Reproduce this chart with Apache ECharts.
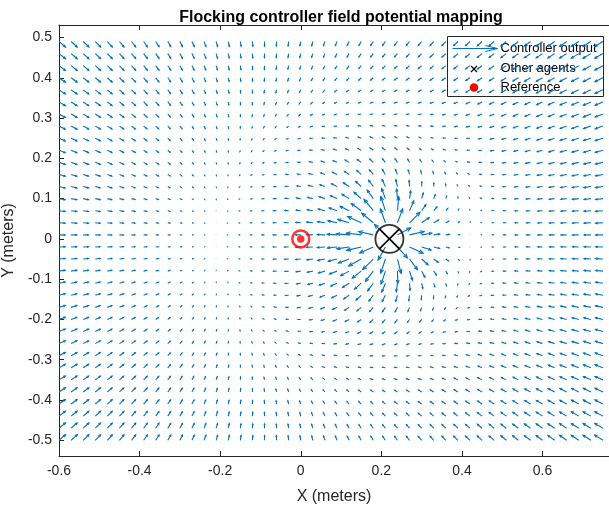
<!DOCTYPE html>
<html>
<head>
<meta charset="utf-8">
<script src="https://cdn.jsdelivr.net/npm/echarts@6/dist/echarts.min.js"></script>
<style>html,body{margin:0;padding:0;background:#fff}#c{width:609px;height:509px}</style>
</head>
<body>
<div id="c"></div>
<script>
// ---- data ----
const gridX = [-0.60,-0.57,-0.54,-0.51,-0.48,-0.45,-0.42,-0.39,-0.36,-0.33,-0.30,-0.27,-0.24,-0.21,-0.18,-0.15,-0.12,-0.09,-0.06,-0.03,0.00,0.03,0.06,0.09,0.12,0.15,0.18,0.21,0.24,0.27,0.30,0.33,0.36,0.39,0.42,0.45,0.48,0.51,0.54,0.57,0.60,0.63,0.66,0.69,0.72,0.75];
const gridY = [-0.50,-0.47,-0.44,-0.41,-0.38,-0.35,-0.32,-0.29,-0.26,-0.23,-0.20,-0.17,-0.14,-0.11,-0.08,-0.05,-0.02,0.01,0.04,0.07,0.10,0.13,0.16,0.19,0.22,0.25,0.28,0.31,0.34,0.37,0.40,0.43,0.46,0.49];
const referencePoint = [0, 0];
const otherAgents = [[0.22, 0]];
const xTicks = [-0.6,-0.4,-0.2,0,0.2,0.4,0.6];
const yTicks = [-0.5,-0.4,-0.3,-0.2,-0.1,0,0.1,0.2,0.3,0.4,0.5];
// controller gains (attraction to reference, repulsion from agents), output saturation
const kAttract = 0.031;
const kRepel = 0.0028;
const maxOut = 0.037;

function controller(x, y) {
  let u = kAttract * (referencePoint[0] - x);
  let v = kAttract * (referencePoint[1] - y);
  for (const a of otherAgents) {
    const dx = x - a[0], dy = y - a[1];
    const d2 = dx*dx + dy*dy;
    u += kRepel * dx / d2;
    v += kRepel * dy / d2;
  }
  const m = Math.hypot(u, v);
  if (m > maxOut) { u *= maxOut / m; v *= maxOut / m; }
  return [u, v];
}
const field = [];
for (const y of gridY) for (const x of gridX) {
  const [u, v] = controller(x, y);
  field.push([x, y, u, v]);
}

const BLUE = '#0072BD';
const AX = '#262626';
const FONT = 'Liberation Sans, Arial, sans-serif';
const chart = echarts.init(document.getElementById('c'), null, {renderer: 'canvas'});

function arrowShape(p0, p1, style) {
  const dx = p1[0]-p0[0], dy = p1[1]-p0[1];
  const len = Math.hypot(dx, dy);
  const children = [{type: 'line', shape: {x1: p0[0], y1: p0[1], x2: p1[0], y2: p1[1]}, style: style}];
  if (len > 0.5) {
    const ang = Math.atan2(dy, dx);
    const h = len * 0.3, a = 0.4;
    children.push({type: 'polyline', shape: {points: [
      [p1[0] - h*Math.cos(ang - a), p1[1] - h*Math.sin(ang - a)],
      [p1[0], p1[1]],
      [p1[0] - h*Math.cos(ang + a), p1[1] - h*Math.sin(ang + a)]
    ]}, style: style});
  }
  return children;
}

const option = {
  animation: false,
  backgroundColor: '#fff',
  title: {
    text: 'Flocking controller field potential mapping',
    left: 336, top: 5, textAlign: 'center',
    textStyle: {fontFamily: FONT, fontSize: 16, fontWeight: 'bold', color: '#000'}
  },
  grid: {left: 59, top: 25, right: 0, bottom: 53, containLabel: false, outerBoundsMode: 'none'},
  xAxis: [{
    type: 'value', min: -0.6, max: 0.765,
    name: 'X (meters)', nameLocation: 'middle', nameGap: 33,
    nameTextStyle: {fontFamily: FONT, fontSize: 16, color: AX},
    axisLine: {show: true, onZero: false, lineStyle: {color: AX, width: 1}},
    axisTick: {show: true, inside: true, length: 5, lineStyle: {color: AX}, customValues: xTicks},
    axisLabel: {show: true, customValues: xTicks, fontFamily: FONT, fontSize: 14, color: AX, margin: 8,
      formatter: v => (Math.abs(v) < 1e-9 ? '0' : String(Math.round(v*10)/10))},
    splitLine: {show: false}
  }, {
    type: 'value', min: -0.6, max: 0.765, position: 'top',
    axisLine: {show: true, onZero: false, lineStyle: {color: AX, width: 1}},
    axisTick: {show: true, inside: true, length: 5, lineStyle: {color: AX}, customValues: xTicks},
    axisLabel: {show: false}, splitLine: {show: false}
  }],
  yAxis: [{
    type: 'value', min: -0.539, max: 0.531,
    name: 'Y (meters)', nameLocation: 'middle', nameGap: 38, nameRotate: 90,
    nameTextStyle: {fontFamily: FONT, fontSize: 16, color: AX},
    axisLine: {show: true, onZero: false, lineStyle: {color: AX, width: 1}},
    axisTick: {show: true, inside: true, length: 5, lineStyle: {color: AX}, customValues: yTicks},
    axisLabel: {show: true, customValues: yTicks, fontFamily: FONT, fontSize: 14, color: AX, margin: 7,
      formatter: v => (Math.abs(v) < 1e-9 ? '0' : String(Math.round(v*10)/10))},
    splitLine: {show: false}
  }],
  series: [{
    type: 'custom',
    name: 'Controller output',
    clip: true,
    data: field,
    renderItem: function (params, api) {
      const x = api.value(0), y = api.value(1), u = api.value(2), v = api.value(3);
      const p0 = api.coord([x, y]);
      const p1 = api.coord([x + u, y + v]);
      return {type: 'group', children: arrowShape(p0, p1, {stroke: BLUE, lineWidth: 1.1, fill: null})};
    },
    z: 2
  }, {
    type: 'scatter', name: 'Reference ring', data: [referencePoint],
    symbol: 'circle', symbolSize: 17,
    itemStyle: {color: 'rgba(0,0,0,0)', borderColor: '#ff0000', borderWidth: 2.5},
    z: 5, silent: true
  }, {
    type: 'scatter', name: 'Reference', data: [referencePoint],
    symbol: 'circle', symbolSize: 7.5,
    itemStyle: {color: '#ff0000'}, z: 6, silent: true
  }, {
    type: 'scatter', name: 'Other agents ring', data: otherAgents,
    symbol: 'circle', symbolSize: 28,
    itemStyle: {color: 'rgba(0,0,0,0)', borderColor: '#000', borderWidth: 1.8},
    z: 5, silent: true
  }, {
    type: 'custom', name: 'Other agents', data: otherAgents, clip: true,
    renderItem: function (params, api) {
      const p = api.coord([api.value(0), api.value(1)]);
      const r = 9.8;
      const st = {stroke: '#000', lineWidth: 1.6};
      return {type: 'group', children: [
        {type: 'line', shape: {x1: p[0]-r, y1: p[1]-r, x2: p[0]+r, y2: p[1]+r}, style: st},
        {type: 'line', shape: {x1: p[0]+r, y1: p[1]-r, x2: p[0]-r, y2: p[1]+r}, style: st}
      ]};
    },
    z: 6
  }],
  graphic: [{
    type: 'group', left: 447, top: 36, z: 100,
    children: [
      {type: 'rect', shape: {x: 0, y: 0, width: 156, height: 60}, style: {fill: '#fff', stroke: AX, lineWidth: 1}},
      {type: 'line', shape: {x1: 5, y1: 12, x2: 50, y2: 12}, style: {stroke: BLUE, lineWidth: 1}},
      {type: 'polyline', shape: {points: [[38, 9], [50, 12], [38, 15]]}, style: {stroke: BLUE, lineWidth: 1, fill: null}},
      {type: 'text', x: 53, y: 12, style: {text: 'Controller output', fontFamily: FONT, fontSize: 13, fill: '#000', verticalAlign: 'middle'}},
      {type: 'line', shape: {x1: 23.5, y1: 29.5, x2: 29.5, y2: 35.5}, style: {stroke: '#000', lineWidth: 1.2}},
      {type: 'line', shape: {x1: 29.5, y1: 29.5, x2: 23.5, y2: 35.5}, style: {stroke: '#000', lineWidth: 1.2}},
      {type: 'text', x: 53, y: 32, style: {text: 'Other agents', fontFamily: FONT, fontSize: 13, fill: '#000', verticalAlign: 'middle'}},
      {type: 'circle', shape: {cx: 26.5, cy: 51, r: 4.3}, style: {fill: '#ff0000'}},
      {type: 'text', x: 53, y: 51, style: {text: 'Reference', fontFamily: FONT, fontSize: 13, fill: '#000', verticalAlign: 'middle'}}
    ]
  }]
};
chart.setOption(option);
</script>
</body>
</html>
